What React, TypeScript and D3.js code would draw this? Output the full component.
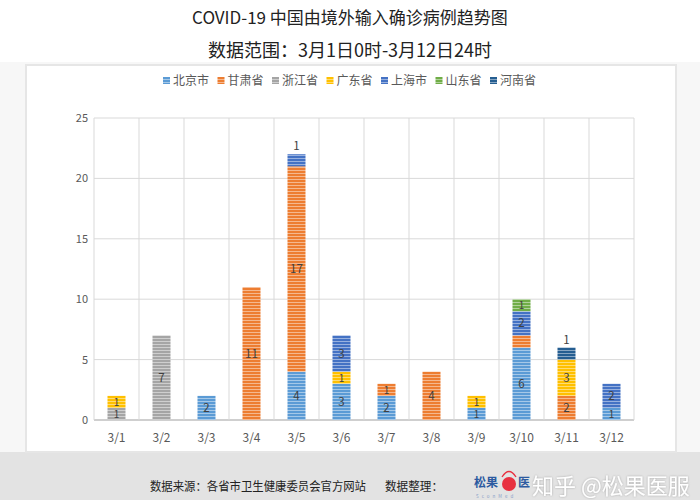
import React from 'react';
import * as d3 from 'd3';

const dates = ['3/1', '3/2', '3/3', '3/4', '3/5', '3/6', '3/7', '3/8', '3/9', '3/10', '3/11', '3/12'];
const provinces = ['北京市', '甘肃省', '浙江省', '广东省', '上海市', '山东省', '河南省'];
const colors = ['#5B9BD5', '#ED7D31', '#A5A5A5', '#FFC000', '#4472C4', '#70AD47', '#255E91'];

// values per province, one per date
const beijing = [0, 0, 2, 0, 4, 3, 2, 0, 1, 6, 0, 1];
const gansu = [0, 0, 0, 11, 17, 0, 1, 4, 0, 1, 2, 0];
const zhejiang = [1, 7, 0, 0, 0, 0, 0, 0, 0, 0, 0, 0];
const guangdong = [1, 0, 0, 0, 0, 1, 0, 0, 1, 0, 3, 0];
const shanghai = [0, 0, 0, 0, 1, 3, 0, 0, 0, 2, 0, 2];
const shandong = [0, 0, 0, 0, 0, 0, 0, 0, 0, 1, 0, 0];
const henan = [0, 0, 0, 0, 0, 0, 0, 0, 0, 0, 1, 0];
const seriesValues = [beijing, gansu, zhejiang, guangdong, shanghai, shandong, henan];

const yTicks = [0, 5, 10, 15, 20, 25];

// data label quirks seen in the original (series index + date)
const labelsAbove = ['4|3/5', '6|3/11'];
const labelsHidden = ['1|3/10'];

const W = 700;
const H = 500;
const plot = { left: 94, right: 634, top: 118, bottom: 420 };

const tint = (c: string, k: number) => d3.interpolateRgb(c, '#ffffff')(k);

export default function App() {
  const x = d3.scaleBand<string>().domain(dates).range([plot.left, plot.right]).paddingInner(0).paddingOuter(0);
  const y = d3.scaleLinear().domain([0, 25]).range([plot.bottom, plot.top]);
  const barW = x.bandwidth() * 0.4;

  const table = dates.map((d, i) => {
    const row: Record<string, number | string> = { date: d };
    provinces.forEach((p, j) => (row[p] = seriesValues[j][i]));
    return row;
  });
  const stacked = d3.stack<Record<string, number | string>>().keys(provinces)(table);

  const font = '"Microsoft YaHei", "Noto Sans CJK SC", "DejaVu Sans", sans-serif';

  return (
    <svg width={W} height={H} style={{ position: 'absolute', left: 0, top: 0, fontFamily: font }}>
      <defs>
        {colors.map((c, i) => (
          <pattern key={i} id={`stripe${i}`} width={4} height={3} patternUnits="userSpaceOnUse">
            <rect width={4} height={3} fill={c} />
            <rect width={4} height={1} y={2} fill={tint(c, 0.45)} />
          </pattern>
        ))}
        <filter id="glow" x="-10%" y="-30%" width="120%" height="160%">
          <feDropShadow dx={0} dy={0} stdDeviation={0.8} floodColor="#999" floodOpacity={0.8} />
        </filter>
      </defs>

      <rect width={W} height={H} fill="#f7f7f7" />
      <rect width={W} height={62} fill="#ffffff" />
      <rect y={452} width={W} height={48} fill="#e3e3e3" />

      {/* chart panel */}
      <rect x={25} y={64} width={652} height={389} fill="#e6e6e6" />
      <rect x={27} y={66} width={648} height={385} fill="#ffffff" />

      <text x={350} y={24} textAnchor="middle" fontSize={17} fill="#222">
        COVID-19 中国由境外输入确诊病例趋势图
      </text>
      <text x={350} y={57} textAnchor="middle" fontSize={18} fill="#222">
        数据范围：3月1日0时-3月12日24时
      </text>

      {/* legend */}
      <g transform="translate(163,86)">
        {provinces.map((p, i) => (
          <g key={p} transform={`translate(${i * 54.5},0)`}>
            <rect x={0} y={-9} width={7} height={7} fill={`url(#stripe${i})`} />
            <text x={10} y={-1} fontSize={12} fill="#595959">{p}</text>
          </g>
        ))}
      </g>

      {/* grid */}
      {yTicks.map((t) => (
        <g key={t}>
          <line x1={plot.left} x2={plot.right} y1={y(t)} y2={y(t)} stroke={t === 0 ? '#bfbfbf' : '#d9d9d9'} strokeWidth={t === 0 ? 1.5 : 1} />
          <text x={88} y={y(t) + 4} textAnchor="end" fontSize={11} fill="#595959">{t}</text>
        </g>
      ))}
      {dates.map((d) => (
        <line key={d} x1={x(d)!} x2={x(d)!} y1={plot.top} y2={plot.bottom} stroke="#d9d9d9" />
      ))}
      <line x1={plot.right} x2={plot.right} y1={plot.top} y2={plot.bottom} stroke="#d9d9d9" />

      {/* bars */}
      {stacked.map((s, si) =>
        s.map((seg, di) => {
          const v = seg[1] - seg[0];
          if (!v) return null;
          const d = dates[di];
          const bx = x(d)! + (x.bandwidth() - barW) / 2;
          const y0 = y(seg[0]);
          const y1 = y(seg[1]);
          const key = `${si}|${d}`;
          const above = labelsAbove.includes(key);
          const hidden = labelsHidden.includes(key);
          return (
            <g key={key}>
              <rect x={bx} y={y1} width={barW} height={y0 - y1} fill={`url(#stripe${si})`} />
              {!hidden && (
                <text
                  x={bx + barW / 2}
                  y={above ? y1 - 4 : (y0 + y1) / 2 + 4}
                  textAnchor="middle"
                  fontSize={v === 1 && !above ? 10 : 11.5}
                  fill="#404040"
                >
                  {v}
                </text>
              )}
            </g>
          );
        })
      )}

      {dates.map((d) => (
        <text key={d} x={x(d)! + x.bandwidth() / 2} y={442} textAnchor="middle" fontSize={12} fill="#595959">
          {d}
        </text>
      ))}

      {/* footer */}
      <text x={150} y={491} fontSize={12} fill="#222" textLength={216} lengthAdjust="spacingAndGlyphs">
        数据来源：各省市卫生健康委员会官方网站
      </text>
      <text x={385} y={491} fontSize={12} fill="#222" textLength={58} lengthAdjust="spacingAndGlyphs">数据整理：</text>
      <text x={474} y={487} fontSize={12} fill="#2c5aa0" fontWeight="bold">松果</text>
      <circle cx={509} cy={484} r={7} fill="#e83040" />
      <path d="M502,477 q7,-11 14,0" fill="none" stroke="#e83040" strokeWidth={1.3} />
      <text x={518} y={487} fontSize={12} fill="#2c5aa0" fontWeight="bold">医</text>
      <text x={476} y={498} fontSize={4.5} fill="#8aa0c8" letterSpacing={3}>SconMed</text>
      <text x={532} y={494} fontSize={22} fill="#ffffff" filter="url(#glow)">
        知乎 @松果医服
      </text>
    </svg>
  );
}
